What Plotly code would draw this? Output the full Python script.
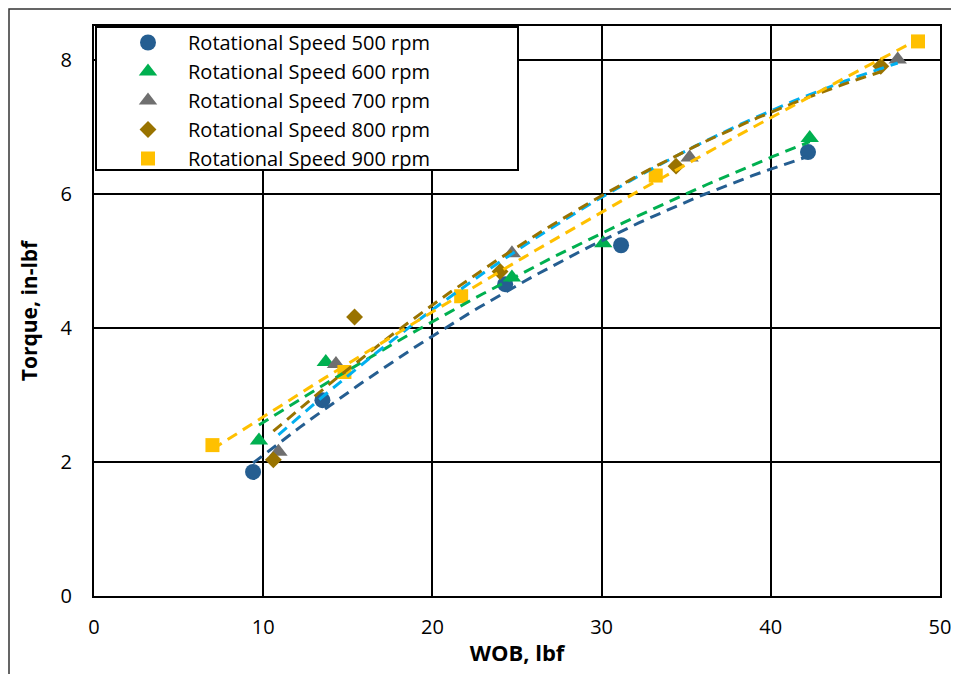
import numpy as np
import plotly.graph_objects as go

# ---- data ----
series_names = ["Rotational Speed 500 rpm", "Rotational Speed 600 rpm",
                "Rotational Speed 700 rpm", "Rotational Speed 800 rpm",
                "Rotational Speed 900 rpm"]
wob_500 = [9.4, 13.5, 24.3, 31.15, 42.2]
tq_500 = [1.85, 2.92, 4.65, 5.23, 6.62]
wob_600 = [9.75, 13.7, 24.7, 30.1, 42.3]
tq_600 = [2.32, 3.49, 4.75, 5.26, 6.83]
wob_700 = [10.9, 14.3, 24.7, 35.2, 47.5]
tq_700 = [2.15, 3.46, 5.11, 6.54, 8.0]
wob_800 = [10.6, 15.4, 24.0, 34.4, 46.5]
tq_800 = [2.03, 4.16, 4.84, 6.41, 7.9]
wob_900 = [7.0, 14.8, 21.7, 33.2, 48.7]
tq_900 = [2.25, 3.34, 4.47, 6.27, 8.27]

x_ticks = [0, 10, 20, 30, 40, 50]
y_ticks = [0, 2, 4, 6, 8]

xs = [wob_500, wob_600, wob_700, wob_800, wob_900]
ys = [tq_500, tq_600, tq_700, tq_800, tq_900]
marker_colors = ["#255E91", "#00B050", "#6F6F6F", "#997300", "#FFC000"]
trend_colors = ["#255E91", "#00B050", "#00B0F0", "#997300", "#FFC000"]
symbols = ["circle", "triangle-up", "triangle-up", "diamond", "square"]
sizes = [16, 16, 16, 13, 14]

FONT = "Open Sans"

fig = go.Figure()
for name, x, y, c, s, sz in zip(series_names, xs, ys, marker_colors, symbols, sizes):
    fig.add_trace(go.Scatter(x=x, y=y, mode="markers", name=name,
                             marker=dict(color=c, symbol=s, size=sz, line=dict(width=0))))

# 2nd-order polynomial trendlines fitted to each series
for x, y, c in zip(xs, ys, trend_colors):
    coef = np.polyfit(x, y, 2)
    xf = np.linspace(min(x), max(x), 60)
    yf = np.polyval(coef, xf)
    fig.add_trace(go.Scatter(x=xf, y=yf, mode="lines", showlegend=False, hoverinfo="skip",
                             line=dict(color=c, width=3, dash="11px,7px")))

# the page body has an 8px default margin, so the figure is drawn 8px smaller
OFF = 8
W, H = 959 - OFF, 674 - OFF
L, T = 94 - OFF, 26 - OFF
R, B = W - (940 - OFF), H - (596 - OFF)
pw, ph = W - L - R, H - T - B

def px_x(p):  # viewport pixel -> paper fraction
    return (p - OFF - L) / pw

def px_y(p):
    return (H - B - (p - OFF)) / ph

fig.update_layout(
    width=W, height=H,
    margin=dict(l=L, r=R, t=T, b=B, autoexpand=False),
    paper_bgcolor="white", plot_bgcolor="white",
    font=dict(family=FONT, color="black", size=20),
    showlegend=True,
    legend=dict(x=px_x(108), y=px_y(23), xanchor="left", yanchor="top",
                bgcolor="rgba(0,0,0,0)", borderwidth=0,
                font=dict(family=FONT, size=20, color="black"),
                itemwidth=70, tracegroupgap=0),
    xaxis=dict(range=[0, 50], tickvals=x_ticks, showgrid=True, gridcolor="black", gridwidth=2,
               showline=True, linecolor="black", linewidth=2, mirror=True,
               zeroline=False, ticks="", ticklabelstandoff=12, automargin=False,
               tickfont=dict(family=FONT, size=20),
               title=dict(text="<b>WOB, lbf</b>", font=dict(family=FONT, size=22), standoff=7)),
    yaxis=dict(range=[0, 8.5], tickvals=y_ticks, showgrid=True, gridcolor="black", gridwidth=2,
               showline=True, linecolor="black", linewidth=2, mirror=True,
               zeroline=False, ticks="", ticklabelstandoff=16, automargin=False,
               tickfont=dict(family=FONT, size=20),
               title=dict(text="<b>Torque, in-lbf</b>", font=dict(family=FONT, size=21), standoff=17)),
    shapes=[
        # legend box
        dict(type="rect", xref="paper", yref="paper", layer="above",
             x0=px_x(96), x1=px_x(518), y0=px_y(170), y1=px_y(27),
             fillcolor="white", line=dict(color="black", width=2)),
        # outer chart frame (as close to the page edge as the figure allows)
        dict(type="rect", xref="paper", yref="paper", layer="above",
             x0=px_x(OFF + 1), x1=px_x(990), y0=px_y(720), y1=px_y(OFF + 1),
             fillcolor="rgba(0,0,0,0)", line=dict(color="#333333", width=1.5)),
    ],
)

fig.write_html("out.html")
